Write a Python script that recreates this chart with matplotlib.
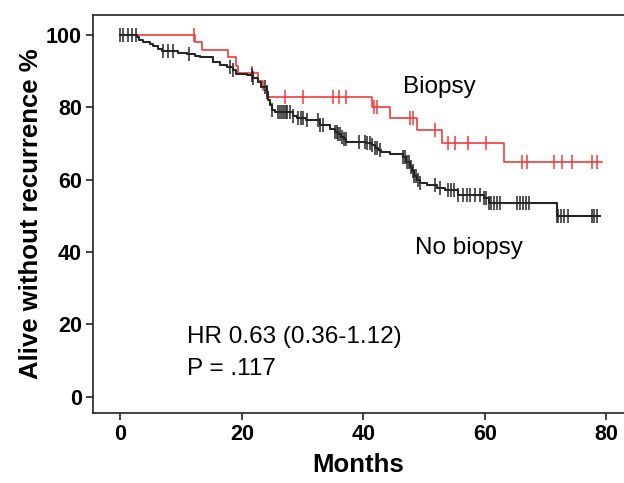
import numpy as np
import matplotlib
matplotlib.use("Agg")
import matplotlib.pyplot as plt

plt.rcParams['font.family'] = ['Liberation Sans', 'DejaVu Sans']

# Biopsy group (red): step times (months), survival (%) and censored times
biopsy_times = [0, 12.3, 13.4, 17.7, 19.0, 19.4, 22.6, 23.5, 24.1, 41.4, 44.4, 48.8, 52.9, 63.2]
biopsy_surv = [100, 98.0, 95.8, 93.8, 91.5, 89.4, 87.3, 84.8, 82.8, 80.2, 77.1, 73.8, 70.2, 64.9]
biopsy_end = 79.3
biopsy_censor = [12.2, 21.6, 27.1, 30.1, 35.0, 36.0, 37.1, 41.8, 42.2, 47.7, 48.2, 51.8,
                 53.9, 55.1, 57.2, 60.2, 66.1, 66.9, 71.3, 72.7, 74.4, 77.6, 78.4]

# No biopsy group (black)
nobiopsy_times = [0, 2.8, 3.1, 3.7, 4.8, 5.4, 6.2, 6.8, 9.5, 10.9, 12.3, 13.1, 15.3, 16.4,
                  17.5, 18.6, 19.1, 20.8, 21.9, 22.7, 23.2, 24.1, 24.3, 24.6, 24.9, 25.4,
                  28.4, 29.0, 30.5, 32.8, 34.5, 35.3, 35.8, 36.3, 36.8, 37.2, 38.1, 40.5,
                  41.4, 41.9, 42.4, 42.9, 44.4, 46.6, 47.1, 47.6, 48.0, 48.4, 48.8, 49.3,
                  50.4, 52.1, 53.4, 55.5, 59.8, 60.6, 71.8]
nobiopsy_surv = [100, 99.5, 98.6, 98.0, 97.5, 96.8, 96.0, 95.6, 95.1, 94.7, 94.2, 93.8, 92.6,
                 91.8, 91.0, 90.3, 89.3, 88.9, 88.0, 87.1, 85.7, 84.3, 82.0, 80.6, 79.3, 78.8,
                 77.6, 77.0, 76.4, 75.1, 73.9, 73.3, 72.6, 71.9, 71.2, 70.5, 70.3, 70.0, 69.6,
                 68.8, 68.2, 67.7, 67.1, 66.2, 65.0, 63.6, 62.3, 61.0, 59.9, 59.0, 58.5, 57.6,
                 57.0, 55.8, 54.9, 53.6, 50.0]
nobiopsy_end = 79.0
nobiopsy_censor = [0, 0.45, 1.3, 1.9, 2.65, 7.0, 7.9, 8.6, 11.3, 18.0, 18.6, 21.6, 21.9, 23.8,
                   24.1, 25.0, 26.0, 26.3, 26.6, 26.9, 27.2, 27.5, 27.9, 28.4, 29.3, 29.7,
                   30.1, 30.7, 32.5, 32.9, 33.3, 35.3, 35.6, 35.9, 36.2, 36.5, 36.8, 37.1,
                   39.2, 40.3, 40.6, 41.1, 41.5, 41.9, 42.3, 42.7, 46.6, 46.9, 47.2, 47.5,
                   47.8, 48.1, 48.4, 48.7, 49.0, 49.3, 51.8, 52.6, 54.0, 54.5, 55.0, 55.6,
                   56.4, 57.0, 57.6, 58.4, 59.2, 59.8, 60.2, 60.6, 61.0, 61.5, 62.0, 62.5,
                   65.3, 65.8, 66.3, 66.8, 67.2, 71.8, 72.1, 72.6, 73.1, 73.7, 77.6, 78.0, 78.4]


def draw_km(ax, times, surv, end, censor, color, lw, z):
    t = np.append(times, end)
    s = np.append(surv, surv[-1])
    ax.step(t, s, where='post', color=color, lw=lw, zorder=z)
    c = np.array(censor)
    idx = np.searchsorted(times, c, side='right') - 1
    ax.plot(c, np.array(surv)[idx], ls='none', marker='|', ms=10, mew=1.1,
            color=color, zorder=z)


fig = plt.figure(figsize=(6.24, 4.83), dpi=100)
ax = fig.add_axes([93 / 624, 70 / 483, 1 - 93 / 624, 398 / 483])

draw_km(ax, biopsy_times, biopsy_surv, biopsy_end, biopsy_censor, '#ee3b3b', 1.2, 2)
draw_km(ax, nobiopsy_times, nobiopsy_surv, nobiopsy_end, nobiopsy_censor, '#262626', 1.5, 3)

ax.set_xlim(-4.5, 82.9)
ax.set_ylim(-4.5, 105.5)
ax.set_xticks([0, 20, 40, 60, 80])
ax.set_yticks([0, 20, 40, 60, 80, 100])
ax.spines['right'].set_visible(False)
for sp in ['left', 'bottom', 'top']:
    ax.spines[sp].set_linewidth(1.2)
    ax.spines[sp].set_color('#222222')
ax.tick_params(direction='out', length=5, width=1.2, color='#222222', pad=3)
for lab in ax.get_xticklabels() + ax.get_yticklabels():
    lab.set_fontsize(15.5)
    lab.set_fontweight('bold')

ax.set_xlabel('Months', fontsize=18.5, fontweight='bold', labelpad=6)
ax.set_ylabel('Alive without recurrence %', fontsize=18.5, fontweight='bold', labelpad=2)

ax.text(46.5, 84.0, 'Biopsy', fontsize=17.5, va='baseline')
ax.text(48.5, 39.5, 'No biopsy', fontsize=17.5, va='baseline')
ax.text(10.9, 14.9, 'HR 0.63 (0.36-1.12)', fontsize=17.5, va='baseline')
ax.text(10.9, 6.0, 'P = .117', fontsize=17.5, va='baseline')

fig.savefig('out.png', dpi=100)
